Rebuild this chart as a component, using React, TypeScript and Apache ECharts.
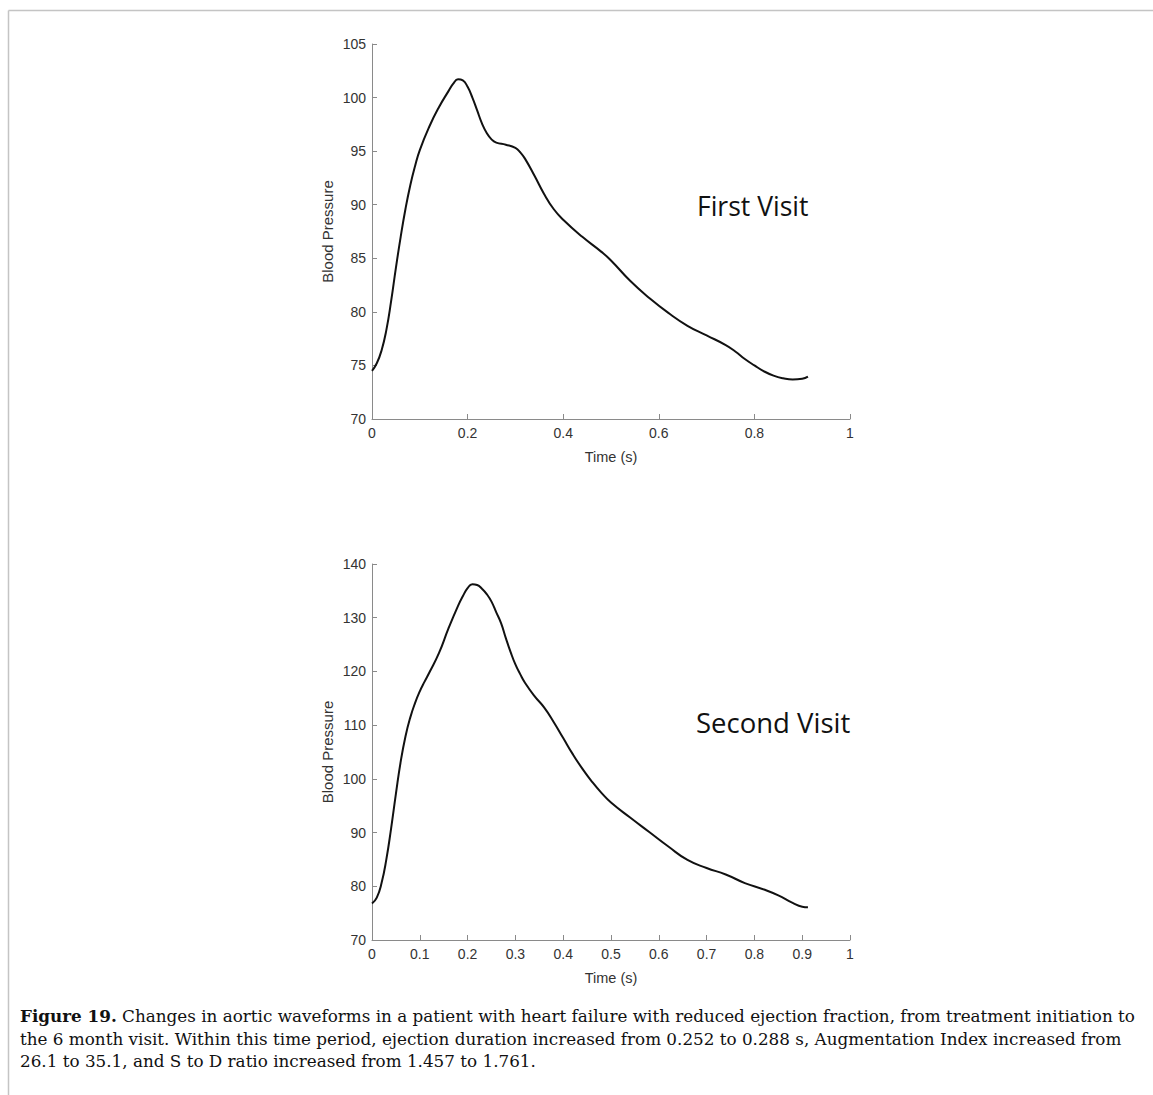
import React, { useEffect, useRef } from "react";
import * as echarts from "echarts";

// First visit waveform
const firstTime = [0, 0.01, 0.02, 0.03, 0.04, 0.05, 0.06, 0.07, 0.08, 0.09, 0.1, 0.12, 0.14, 0.16, 0.17, 0.18, 0.19, 0.2, 0.21, 0.22, 0.23, 0.24, 0.25, 0.26, 0.28, 0.3, 0.31, 0.32, 0.34, 0.36, 0.38, 0.4, 0.44, 0.48, 0.5, 0.54, 0.58, 0.62, 0.66, 0.7, 0.74, 0.76, 0.78, 0.8, 0.82, 0.84, 0.86, 0.88, 0.9, 0.912];
const firstBP = [74.5, 75.2, 76.4, 78.3, 81.0, 84.1, 87.0, 89.6, 91.8, 93.6, 95.1, 97.3, 99.1, 100.6, 101.3, 101.7, 101.6, 101.0, 100.0, 98.8, 97.6, 96.7, 96.1, 95.8, 95.6, 95.3, 94.9, 94.3, 92.7, 91.0, 89.6, 88.6, 87.0, 85.6, 84.8, 82.9, 81.3, 79.9, 78.7, 77.8, 76.9, 76.3, 75.6, 75.0, 74.45, 74.05, 73.8, 73.68, 73.75, 73.95];

// Second visit waveform
const secondTime = [0, 0.01, 0.02, 0.03, 0.04, 0.05, 0.06, 0.07, 0.08, 0.09, 0.1, 0.11, 0.12, 0.14, 0.16, 0.18, 0.19, 0.2, 0.21, 0.22, 0.23, 0.24, 0.25, 0.26, 0.27, 0.28, 0.29, 0.3, 0.31, 0.32, 0.34, 0.36, 0.38, 0.4, 0.42, 0.44, 0.46, 0.48, 0.5, 0.54, 0.58, 0.62, 0.66, 0.7, 0.74, 0.78, 0.82, 0.85, 0.88, 0.9, 0.912];
const secondBP = [76.8, 77.9, 80.6, 85.0, 90.8, 97.2, 103.2, 107.9, 111.4, 114.1, 116.3, 118.1, 119.8, 123.4, 128.0, 132.2, 134.0, 135.5, 136.25, 136.1, 135.4, 134.4, 133.0, 131.0, 129.0, 126.2, 123.6, 121.3, 119.5, 117.9, 115.4, 113.3, 110.6, 107.6, 104.6, 101.9, 99.5, 97.4, 95.6, 92.8, 90.1, 87.4, 84.9, 83.4, 82.2, 80.6, 79.4, 78.3, 76.9, 76.2, 76.1];

const xLabel = "Time (s)";
const yLabel = "Blood Pressure";
const panelLabels = ["First Visit", "Second Visit"];
const captionLines = [
  "{b|Figure 19.} Changes in aortic waveforms in a patient with heart failure with reduced ejection fraction, from treatment initiation to",
  "the 6 month visit. Within this time period, ejection duration increased from 0.252 to 0.288 s, Augmentation Index increased from",
  "26.1 to 35.1, and S to D ratio increased from 1.457 to 1.761.",
];

const axisGray = "#8a8a8a";
const labelGray = "#333333";
const sansFont = "Liberation Sans";
const serifFont = "DejaVu Serif";

function xAxisCfg(gridIndex: number, interval: number) {
  return {
    type: "value",
    gridIndex,
    min: 0,
    max: 1,
    interval,
    name: xLabel,
    nameLocation: "middle",
    nameGap: 30,
    nameTextStyle: { color: labelGray, fontSize: 14.5, fontFamily: sansFont },
    axisLine: { show: true, lineStyle: { color: axisGray, width: 1 } },
    axisTick: { show: true, inside: true, length: 5, lineStyle: { color: axisGray } },
    axisLabel: { color: labelGray, fontSize: 14, fontFamily: sansFont, margin: 7 },
    splitLine: { show: false },
  };
}

function yAxisCfg(gridIndex: number, min: number, max: number, interval: number) {
  return {
    type: "value",
    gridIndex,
    min,
    max,
    interval,
    name: yLabel,
    nameLocation: "middle",
    nameGap: 37,
    nameTextStyle: { color: labelGray, fontSize: 15, fontFamily: sansFont },
    axisLine: { show: true, lineStyle: { color: axisGray, width: 1 } },
    axisTick: { show: true, inside: true, length: 5, lineStyle: { color: axisGray } },
    axisLabel: { color: labelGray, fontSize: 14, fontFamily: sansFont, margin: 6 },
    splitLine: { show: false },
  };
}

export default function App() {
  const ref = useRef<HTMLDivElement>(null);
  useEffect(() => {
    document.body.style.margin = "0";
    const chart = echarts.init(ref.current!, null, { renderer: "svg" });
    const lineStyle = { color: "#111111", width: 2 };
    chart.setOption({
      animation: false,
      backgroundColor: "#ffffff",
      grid: [
        { left: 372, top: 44, width: 478, height: 375 },
        { left: 372, top: 564, width: 478, height: 376 },
      ],
      xAxis: [xAxisCfg(0, 0.2), xAxisCfg(1, 0.1)],
      yAxis: [yAxisCfg(0, 70, 105, 5), yAxisCfg(1, 70, 140, 10)],
      series: [
        {
          type: "line",
          xAxisIndex: 0,
          yAxisIndex: 0,
          smooth: 0.5,
          showSymbol: false,
          lineStyle,
          data: firstTime.map((t, i) => [t, firstBP[i]]),
        },
        {
          type: "line",
          xAxisIndex: 1,
          yAxisIndex: 1,
          smooth: 0.5,
          showSymbol: false,
          lineStyle,
          data: secondTime.map((t, i) => [t, secondBP[i]]),
        },
      ],
      graphic: [
        { type: "line", shape: { x1: 8.5, y1: 10.5, x2: 1153, y2: 10.5 }, style: { stroke: "#c4c4c4", lineWidth: 1.5 } },
        { type: "line", shape: { x1: 8.5, y1: 10.5, x2: 8.5, y2: 1095 }, style: { stroke: "#c4c4c4", lineWidth: 1.5 } },
        {
          type: "text",
          x: 697,
          y: 206,
          style: { text: panelLabels[0], fontFamily: "Open Sans", fontSize: 26.5, fill: "#111", textVerticalAlign: "middle" },
        },
        {
          type: "text",
          x: 696,
          y: 722,
          style: { text: panelLabels[1], fontFamily: "Open Sans", fontSize: 27.5, fill: "#111", textVerticalAlign: "middle" },
        },
        ...captionLines.map((line, i) => ({
          type: "text",
          x: 20,
          y: 1016 + i * 22.5,
          style: {
            text: line,
            fontFamily: serifFont,
            fontSize: 16.8,
            fill: "#111",
            textVerticalAlign: "middle",
            rich: { b: { fontWeight: "bold", fontFamily: serifFont, fontSize: 16.8, fill: "#111" } },
          },
        })),
      ],
    });
    return () => chart.dispose();
  }, []);
  return <div ref={ref} style={{ position: "absolute", left: 0, top: 0, width: 1153, height: 1095 }} />;
}
